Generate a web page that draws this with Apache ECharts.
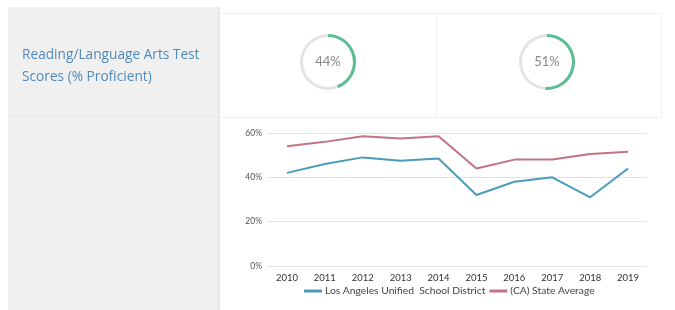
<!DOCTYPE html>
<html>
<head>
<meta charset="utf-8">
<script src="https://cdn.jsdelivr.net/npm/echarts@6/dist/echarts.min.js"></script>
<style>
  html, body { margin: 0; padding: 0; background: #fff; }
  #chart { width: 675px; height: 310px; }
</style>
</head>
<body>
<div id="chart"></div>
<script>
// 数据
const years = ['2010', '2011', '2012', '2013', '2014', '2015', '2016', '2017', '2018', '2019']
const districtScores = [42, 46, 49, 47.5, 48.5, 32, 38, 40, 31, 44]
const stateScores = [54, 56, 58.5, 57.5, 58.5, 44, 48, 48, 50.5, 51.5]
const currentDistrict = 44
const currentState = 51
const seriesNames = ['Los Angeles Unified  School District', '(CA) State Average']

// 圆环
function ring (value, cx) {
  return {
    type: 'gauge',
    center: [cx, 62],
    radius: 28,
    min: 0,
    max: 100,
    startAngle: 90,
    endAngle: -270,
    pointer: { show: false },
    progress: { show: true, width: 3, itemStyle: { color: '#5dbf91' } },
    axisLine: { lineStyle: { width: 3, color: [[1, '#e4e4e4']] } },
    axisTick: { show: false },
    splitLine: { show: false },
    axisLabel: { show: false },
    title: { show: false },
    detail: {
      offsetCenter: [0, 0],
      formatter: '{value}%',
      fontSize: 13,
      fontWeight: 'normal',
      fontFamily: 'Lato',
      color: '#8a8a8a'
    },
    data: [{ value: value }]
  }
}

const chart = echarts.init(document.getElementById('chart'))
chart.setOption({
  animation: false,
  graphic: [
    { type: 'rect', shape: { x: 8, y: 7, width: 210, height: 303 }, style: { fill: '#f0f0f0' } },
    { type: 'rect', shape: { x: 218, y: 7, width: 2, height: 303 }, style: { fill: '#e8e8e8' } },
    { type: 'rect', shape: { x: 8, y: 115, width: 210, height: 1 }, style: { fill: '#e9e9e9' } },
    { type: 'rect', shape: { x: 220, y: 13, width: 440, height: 1 }, style: { fill: '#f0f0f0' } },
    { type: 'rect', shape: { x: 220, y: 117, width: 440, height: 1 }, style: { fill: '#f0f0f0' } },
    { type: 'rect', shape: { x: 436, y: 13, width: 1, height: 105 }, style: { fill: '#f0f0f0' } },
    { type: 'rect', shape: { x: 661, y: 13, width: 1, height: 105 }, style: { fill: '#f2f2f2' } },
    {
      type: 'text',
      left: 22,
      top: 44,
      style: {
        text: 'Reading/Language Arts Test\nScores (% Proficient)',
        fill: '#4f8abb',
        font: '13.7px "Open Sans"',
        lineHeight: 22
      }
    }
  ],
  grid: { left: 268, right: 28, top: 133, bottom: 44 },
  legend: {
    bottom: 9,
    left: 299,
    itemWidth: 18,
    itemHeight: 3,
    itemGap: 4,
    icon: 'rect',
    textStyle: { fontSize: 10.3, color: '#444', fontFamily: 'Lato', padding: [0, 0, 0, -2] },
    data: seriesNames
  },
  xAxis: {
    type: 'category',
    data: years,
    axisLine: { show: false },
    axisTick: { show: false },
    axisLabel: { fontSize: 9.5, color: '#333', margin: 7, fontFamily: 'Lato' }
  },
  yAxis: {
    type: 'value',
    min: 0,
    max: 60,
    interval: 20,
    axisLabel: { formatter: '{value}%', fontSize: 8.5, color: '#555', margin: 6, fontFamily: 'Lato' },
    splitLine: { lineStyle: { color: '#e3e3e3' } }
  },
  series: [
    {
      name: seriesNames[0],
      type: 'line',
      data: districtScores,
      symbol: 'none',
      lineStyle: { width: 2, color: '#4b9bbd' },
      itemStyle: { color: '#4b9bbd' }
    },
    {
      name: seriesNames[1],
      type: 'line',
      data: stateScores,
      symbol: 'none',
      lineStyle: { width: 2, color: '#c27482' },
      itemStyle: { color: '#c27482' }
    },
    ring(currentDistrict, 328),
    ring(currentState, 547)
  ]
})
</script>
</body>
</html>
